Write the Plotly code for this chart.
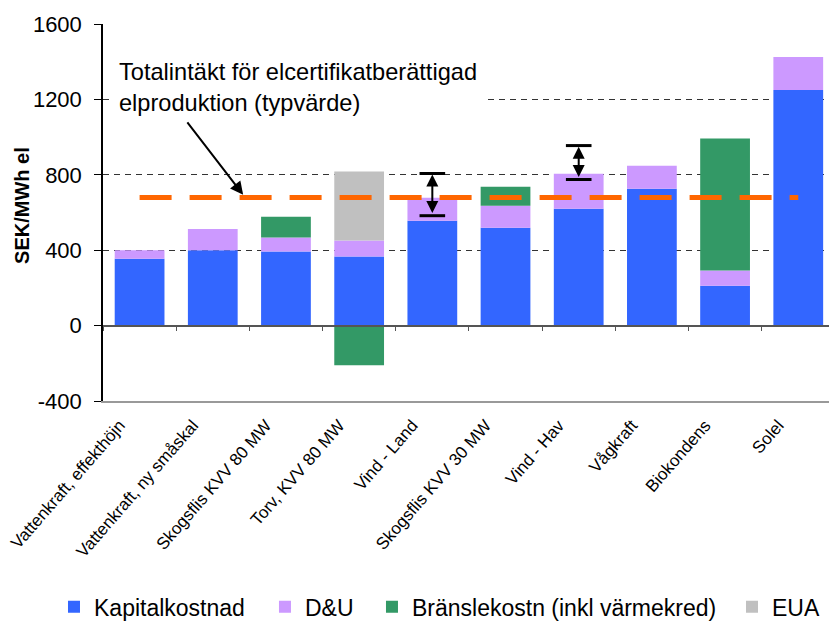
import plotly.graph_objects as go

categories = ["Vattenkraft, effekthöjn", "Vattenkraft, ny småskal", "Skogsflis KVV 80 MW",
              "Torv, KVV 80 MW", "Vind - Land", "Skogsflis KVV 30 MW", "Vind - Hav",
              "Vågkraft", "Biokondens", "Solel"]
kapitalkostnad = [355, 400, 393, 366, 556, 519, 620, 726, 212, 1250]
du = [45, 113, 74, 85, 122, 117, 186, 122, 80, 175]
bransle = [None, None, 111, -211, None, 101, None, None, 700, None]
eua = [None, None, None, 367, None, None, None, None, None, None]
typvarde = 680
gap_categories = ["Vind - Land", "Vind - Hav"]
gap_low = [583, 775]
gap_high = [807, 955]
y_ticks = [-400, 0, 400, 800, 1200, 1600]
y_tick_labels = ["-400", "0", "400", "800", "1200", "1600"]

FONT = "Arial, Liberation Sans, sans-serif"

fig = go.Figure()
series = [("Kapitalkostnad", kapitalkostnad, "#3366FF", "legend", -0.0675),
          ("D&U", du, "#CC99FF", "legend2", 0.2231),
          ("Bränslekostn (inkl värmekred)", bransle, "#339966", "legend3", 0.3705),
          ("EUA", eua, "#C0C0C0", "legend4", 0.8664)]
legends = {}
for name, vals, col, leg, lx in series:
    fig.add_trace(go.Bar(x=categories, y=vals, name=name, marker_color=col,
                         marker_line_width=0, width=0.68, legend=leg))
    legends[leg] = dict(orientation="h", x=lx, xanchor="left", y=-0.546, yanchor="middle",
                        font=dict(family=FONT, size=23), itemwidth=30,
                        bgcolor="rgba(0,0,0,0)")

fig.add_trace(go.Scatter(x=categories, y=[typvarde] * len(categories), mode="lines",
                         line=dict(color="#FF6600", width=5, dash="32px,18px"),
                         showlegend=False, hoverinfo="skip"))

# invisible trace to carry the zero-crossing category axis
fig.add_trace(go.Scatter(x=categories, y=kapitalkostnad, xaxis="x2", mode="markers",
                         marker=dict(opacity=0), showlegend=False, hoverinfo="skip"))

annotations = [
    dict(xref="paper", yref="paper", x=0.012, y=0.927, xanchor="left", yanchor="top",
         text="Totalintäkt för elcertifikatberättigad<br>elproduktion (typvärde)",
         align="left", showarrow=False, bgcolor="white", borderpad=6,
         font=dict(family=FONT, size=23.6, color="black")),
    dict(x=1.415, y=694, ax=0.637, ay=1086, xref="x", yref="y", axref="x", ayref="y",
         text="", showarrow=True, arrowhead=2, arrowsize=1.3, arrowwidth=2, arrowcolor="black"),
    dict(xref="paper", yref="paper", x=-0.1116, y=0.52, xanchor="center", yanchor="middle",
         text="<b>SEK/MWh el</b>", textangle=-90, showarrow=False,
         font=dict(family=FONT, size=20, color="black")),
]
shapes = []
for cat, lo, hi in zip(gap_categories, gap_low, gap_high):
    i = categories.index(cat)
    annotations.append(dict(x=i, y=hi - 6, ax=i, ay=lo + 6, xref="x", yref="y", axref="x", ayref="y",
                            text="", showarrow=True, arrowhead=2, arrowside="end+start",
                            arrowsize=1.2, arrowwidth=2, arrowcolor="black"))
    for yv in (lo, hi):
        shapes.append(dict(type="line", xref="x", yref="y", x0=i - 0.175, x1=i + 0.175,
                           y0=yv, y1=yv, line=dict(color="black", width=3), layer="above"))

fig.update_layout(
    width=829, height=621, barmode="relative", bargap=0.32,
    plot_bgcolor="white", paper_bgcolor="white",
    margin=dict(l=103, r=0, t=24, b=220, autoexpand=False),
    font=dict(family=FONT, color="black"),
    xaxis=dict(range=[-0.5, 9.42], showline=True, linecolor="#999999", linewidth=1.5,
               ticks="", tickangle=-49, tickfont=dict(family=FONT, size=17),
               ticklabelshift=-20, ticklabelstandoff=6,
               showgrid=False, zeroline=False, automargin=False),
    xaxis2=dict(overlaying="x", matches="x", anchor="free", position=0.2, side="bottom",
                showline=True, linecolor="#555555", linewidth=1.5, ticks="outside",
                tickson="boundaries", ticklen=5, tickcolor="#555555",
                showticklabels=False, showgrid=False, zeroline=False, automargin=False),
    yaxis=dict(range=[-400, 1600], tickvals=y_ticks, ticktext=y_tick_labels,
               showline=True, linecolor="black",
               linewidth=1.5, ticks="outside", ticklen=7, tickcolor="black",
               tickfont=dict(family=FONT, size=22), ticklabelstandoff=8,
               showgrid=True, gridcolor="#333333", griddash="6px,5px", gridwidth=1,
               zeroline=False, automargin=False),
    annotations=annotations, shapes=shapes,
    **legends,
)
fig.write_html("out.html", config={"displayModeBar": False},
               post_script="document.body.style.margin='0px';document.body.style.overflow='hidden';")
